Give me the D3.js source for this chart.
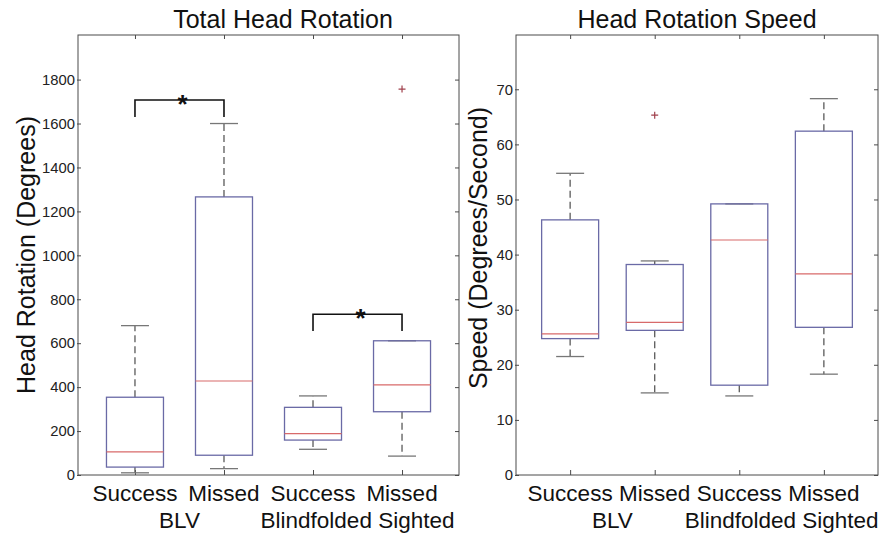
<!DOCTYPE html>
<html>
<head>
<meta charset="utf-8">
<script src="https://cdn.jsdelivr.net/npm/d3@7"></script>
<style>
  html, body { margin: 0; padding: 0; background: #fff; }
  svg { display: block; font-family: "Liberation Sans", Arial, Helvetica, sans-serif; }
</style>
</head>
<body>
<svg id="chart" width="892" height="536"></svg>
<script>
// Conditions shown on both panels
const categories = ["Success", "Missed", "Success", "Missed"];
const groups = ["BLV", "Blindfolded Sighted"];

// Total head rotation (degrees): box-plot statistics per condition
const rotLow  = [10, 29, 117, 86];
const rotQ1   = [36, 90, 159, 288];
const rotMed  = [105, 428, 188, 410];
const rotQ3   = [354, 1266, 308, 611];
const rotHigh = [680, 1600, 360, 611];
const rotOutliers = [[3, 1757]];
const rotTicks = [0, 200, 400, 600, 800, 1000, 1200, 1400, 1600, 1800];
// significance brackets: [from category, to category, bracket level, leg end]
const rotSig = [[0, 1, 1707, 1630], [2, 3, 732, 656]];

// Head rotation speed (degrees/second)
const spdLow  = [21.5, 14.9, 14.35, 18.3];
const spdQ1   = [24.75, 26.25, 16.3, 26.8];
const spdMed  = [25.6, 27.7, 42.65, 36.5];
const spdQ3   = [46.3, 38.2, 49.2, 62.4];
const spdHigh = [54.75, 38.85, 49.2, 68.3];
const spdOutliers = [[1, 65.3]];
const spdTicks = [0, 10, 20, 30, 40, 50, 60, 70];

const svg = d3.select("#chart");

function panel(opt) {
  const { x0, x1, y0, y1, yMax, ticks, low, q1, med, q3, high, outliers,
          title, titleX, ylabel, ylabelX, ylabelY, sig } = opt;
  const g = svg.append("g");
  const x = d3.scalePoint().domain(d3.range(categories.length)).range([x0, x1]).padding(0.64);
  const y = d3.scaleLinear().domain([0, yMax]).range([y1, y0]);
  const boxW = 57, capW = 28, tk = 4;
  const axisColor = "#4a4a4a";

  // frame
  g.append("rect").attr("x", x0).attr("y", y0).attr("width", x1 - x0).attr("height", y1 - y0)
    .attr("fill", "none").attr("stroke", axisColor).attr("stroke-width", 1);

  // left axis: labels outside, short ticks straddling the frame
  const left = d3.axisLeft(y).tickValues(ticks).tickSize(2).tickPadding(1).tickFormat(d3.format("d"));
  const la = g.append("g").attr("transform", `translate(${x0},0)`).call(left);
  la.select(".domain").remove();
  la.selectAll("line").attr("stroke", axisColor).attr("x2", 3).attr("x1", -1);
  la.selectAll("text").attr("font-size", 14.8).attr("fill", "#222")
    .attr("font-family", "'Liberation Sans', Arial, sans-serif");

  // right axis ticks (inward)
  const ra = g.append("g").attr("transform", `translate(${x1},0)`)
    .call(d3.axisLeft(y).tickValues(ticks).tickSize(tk).tickFormat(""));
  ra.select(".domain").remove();
  ra.selectAll("line").attr("stroke", axisColor);

  // top and bottom category ticks (inward)
  const ta = g.append("g").attr("transform", `translate(0,${y0})`)
    .call(d3.axisBottom(x).tickSize(tk).tickFormat(""));
  ta.select(".domain").remove();
  ta.selectAll("line").attr("stroke", axisColor);
  const ba = g.append("g").attr("transform", `translate(0,${y1})`)
    .call(d3.axisTop(x).tickSize(tk + 1).tickFormat(""));
  ba.select(".domain").remove();
  ba.selectAll("line").attr("stroke", axisColor);

  // category labels
  g.selectAll(".cat").data(categories).enter().append("text")
    .attr("x", (d, i) => x(i)).attr("y", y1 + 26)
    .attr("text-anchor", "middle").attr("font-size", 22.5).attr("fill", "#111")
    .text(d => d);
  g.selectAll(".grp").data(groups).enter().append("text")
    .attr("x", (d, i) => (x(2 * i) + x(2 * i + 1)) / 2).attr("y", y1 + 53)
    .attr("text-anchor", "middle").attr("font-size", 22.5).attr("fill", "#111")
    .text(d => d);

  // boxes
  const data = d3.range(categories.length).map(i => ({
    i, low: low[i], q1: q1[i], med: med[i], q3: q3[i], high: high[i]
  }));
  const b = g.selectAll(".box").data(data).enter().append("g");
  const whisk = "#5a5a5a";
  b.append("line").attr("x1", d => x(d.i)).attr("x2", d => x(d.i))
    .attr("y1", d => y(d.q3)).attr("y2", d => y(d.high))
    .attr("stroke", whisk).attr("stroke-width", 1.3).attr("stroke-dasharray", "7,4");
  b.append("line").attr("x1", d => x(d.i)).attr("x2", d => x(d.i))
    .attr("y1", d => y(d.q1)).attr("y2", d => y(d.low))
    .attr("stroke", whisk).attr("stroke-width", 1.3).attr("stroke-dasharray", "7,4");
  b.append("line").attr("x1", d => x(d.i) - capW / 2).attr("x2", d => x(d.i) + capW / 2)
    .attr("y1", d => y(d.high)).attr("y2", d => y(d.high))
    .attr("stroke", "#777").attr("stroke-width", 1.3);
  b.append("line").attr("x1", d => x(d.i) - capW / 2).attr("x2", d => x(d.i) + capW / 2)
    .attr("y1", d => y(d.low)).attr("y2", d => y(d.low))
    .attr("stroke", "#777").attr("stroke-width", 1.3);
  b.append("rect").attr("x", d => x(d.i) - boxW / 2).attr("width", boxW)
    .attr("y", d => y(d.q3)).attr("height", d => y(d.q1) - y(d.q3))
    .attr("fill", "none").attr("stroke", "#6a6aa6").attr("stroke-width", 1.3);
  b.append("line").attr("x1", d => x(d.i) - boxW / 2).attr("x2", d => x(d.i) + boxW / 2)
    .attr("y1", d => y(d.med)).attr("y2", d => y(d.med))
    .attr("stroke", "#d86a6a").attr("stroke-width", 1.2);

  // outliers
  outliers.forEach(([ci, v]) => {
    const cx = x(ci), cy = y(v), s = 3.5;
    g.append("path").attr("d", `M${cx - s},${cy}H${cx + s}M${cx},${cy - s}V${cy + s}`)
      .attr("stroke", "#a0404c").attr("stroke-width", 1.2);
  });

  // significance brackets
  (sig || []).forEach(([a, c, lvl, leg]) => {
    g.append("path")
      .attr("d", `M${x(a)},${y(leg)}V${y(lvl)}H${x(c)}V${y(leg)}`)
      .attr("fill", "none").attr("stroke", "#111").attr("stroke-width", 1.6);
    g.append("text").attr("x", (x(a) + x(c)) / 2 + 3).attr("y", y(lvl) + 13)
      .attr("text-anchor", "middle").attr("font-size", 26).attr("font-weight", "bold")
      .attr("fill", "#111").text("*");
  });

  // title and y-axis label
  g.append("text").attr("x", titleX).attr("y", 28).attr("text-anchor", "middle")
    .attr("font-size", 25).attr("fill", "#111").text(title);
  g.append("text").attr("transform", `translate(${ylabelX},${ylabelY}) rotate(-90)`)
    .attr("text-anchor", "middle").attr("font-size", 25).attr("fill", "#111").text(ylabel);
}

panel({
  x0: 78, x1: 459, y0: 35, y1: 475, yMax: 2003, ticks: rotTicks,
  low: rotLow, q1: rotQ1, med: rotMed, q3: rotQ3, high: rotHigh, outliers: rotOutliers,
  title: "Total Head Rotation", titleX: 283,
  ylabel: "Head Rotation (Degrees)", ylabelX: 35, ylabelY: 255, sig: rotSig
});

panel({
  x0: 516, x1: 878, y0: 35, y1: 475, yMax: 79.85, ticks: spdTicks,
  low: spdLow, q1: spdQ1, med: spdMed, q3: spdQ3, high: spdHigh, outliers: spdOutliers,
  title: "Head Rotation Speed", titleX: 697,
  ylabel: "Speed (Degrees/Second)", ylabelX: 487, ylabelY: 248
});
</script>
</body>
</html>
